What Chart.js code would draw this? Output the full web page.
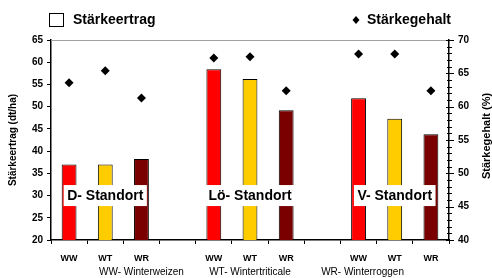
<!DOCTYPE html>
<html>
<head>
<meta charset="utf-8">
<script src="https://cdn.jsdelivr.net/npm/chart.js@4/dist/chart.umd.min.js"></script>
<style>
html,body{margin:0;padding:0;background:#fff;}
#wrap{width:492px;height:278px;position:relative;}
</style>
</head>
<body>
<div id="wrap"><canvas id="c" width="492" height="278"></canvas></div>
<script>
// ---- data ----
const categories = ['WW','WT','WR','','WW','WT','WR','','WW','WT','WR'];
const staerkeertrag = [37.0, 37.0, 38.2, null, 58.4, 56.2, 49.2, null, 51.9, 47.3, 43.8];
const staerkegehalt = [63.6, 65.4, 61.3, null, 67.3, 67.5, 62.4, null, 67.9, 67.9, 62.4];
const leftTicks = [20,25,30,35,40,45,50,55,60,65];
const rightTicks = [40,45,50,55,60,65,70];
const standorte = ['D- Standort','Lö- Standort','V- Standort'];
const standortIndex = [1,5,9];
const legende = ['WW- Winterweizen','WT- Wintertriticale','WR- Winterroggen'];

const FONT = "'Liberation Sans', Arial, sans-serif";
const cropColor = {WW:'#ff0000', WT:'#ffcc00', WR:'#7a0000'};
const barColors = categories.map(c => cropColor[c] || '#fff');

const extras = {
  id:'extras',
  afterDraw(chart){
    const ctx = chart.ctx;
    const ca = chart.chartArea;
    const xs = chart.scales.x, ys = chart.scales.y, y1 = chart.scales.y1;
    ctx.save();
    // top border line
    ctx.strokeStyle = '#a0a0a0'; ctx.lineWidth = 1;
    ctx.beginPath(); ctx.moveTo(ca.left, ca.top + 0.5); ctx.lineTo(ca.right, ca.top + 0.5); ctx.stroke();
    // right axis tick marks (major and minor)
    ctx.strokeStyle = '#000'; ctx.lineWidth = 1;
    for (let v = y1.min; v <= y1.max; v++) {
      const py = Math.round(y1.getPixelForValue(v)) + 0.5;
      const major = v % 5 === 0;
      ctx.beginPath();
      ctx.moveTo(ca.right - (major ? 3 : 2), py);
      ctx.lineTo(ca.right + (major ? 5 : 3), py);
      ctx.stroke();
    }
    // Standort labels
    ctx.font = 'bold 14px ' + FONT;
    ctx.textBaseline = 'middle'; ctx.textAlign = 'center';
    standorte.forEach((s, i) => {
      const px = xs.getPixelForValue(standortIndex[i]);
      const py = ys.getPixelForValue(30);
      const w = ctx.measureText(s).width + 7;
      ctx.fillStyle = '#fff';
      ctx.fillRect(px - w/2, py - 10.5, w, 21);
      ctx.fillStyle = '#000';
      ctx.fillText(s, px, py + 0.5);
    });
    // bottom explanation
    ctx.font = '10px ' + FONT;
    ctx.fillStyle = '#000'; ctx.textAlign = 'center';
    const noteX = [xs.getPixelForValue(2), xs.getPixelForValue(5), xs.getPixelForValue(8) + 4];
    legende.forEach((t, i) => ctx.fillText(t, noteX[i], 272));
    // axis titles
    ctx.font = 'bold 10px ' + FONT;
    ctx.save(); ctx.translate(13, 140); ctx.rotate(-Math.PI/2); ctx.fillText('Stärkeertrag (dt/ha)', 0, 0); ctx.restore();
    ctx.font = 'bold 11px ' + FONT;
    ctx.save(); ctx.translate(487, 136); ctx.rotate(-Math.PI/2); ctx.fillText('Stärkegehalt (%)', 0, 0); ctx.restore();
    // legend
    ctx.strokeStyle = '#000'; ctx.lineWidth = 1;
    ctx.strokeRect(49.5, 13.5, 14, 13);
    ctx.font = 'bold 14px ' + FONT; ctx.textAlign = 'left';
    ctx.fillText('Stärkeertrag', 73, 20.5);
    ctx.beginPath();
    ctx.moveTo(356, 16); ctx.lineTo(359.5, 20); ctx.lineTo(356, 24); ctx.lineTo(352.5, 20); ctx.closePath();
    ctx.fill();
    ctx.fillText('Stärkegehalt', 367, 20.5);
    ctx.restore();
  }
};

new Chart(document.getElementById('c'), {
  data: {
    labels: categories,
    datasets: [
      {
        type:'line', label:'Stärkegehalt', data: staerkegehalt, yAxisID:'y1',
        showLine:false, pointStyle:'rectRot', pointRadius:4.5, pointHoverRadius:4.5,
        backgroundColor:'#000', borderColor:'#000', borderWidth:0, order:0
      },
      {
        type:'bar', label:'Stärkeertrag', data: staerkeertrag, yAxisID:'y',
        backgroundColor: barColors, borderColor:'#000', borderWidth:1, borderSkipped:false,
        barPercentage:0.41, categoryPercentage:1, order:1
      }
    ]
  },
  options: {
    responsive:false, animation:false,
    layout:{padding:{top:40, left:0, right:0, bottom:0}},
    plugins:{legend:{display:false}, tooltip:{enabled:false}, title:{display:false}},
    scales:{
      x:{
        offset:true,
        grid:{offset:true, drawOnChartArea:false, drawTicks:true, tickLength:4, color:'#000'},
        border:{color:'#000', width:1.5},
        ticks:{color:'#000', font:{family:FONT, size:9, weight:'bold'}, maxRotation:0, autoSkip:false, padding:9},
        afterFit(s){ s.height = 38; }
      },
      y:{
        position:'left', min:20, max:65,
        afterBuildTicks(s){ s.ticks = leftTicks.map(v => ({value:v})); },
        grid:{drawOnChartArea:false, drawTicks:true, tickLength:4, color:'#000'},
        border:{color:'#000', width:1.5},
        ticks:{color:'#000', font:{family:FONT, size:10, weight:'bold'}, padding:4},
        afterFit(s){ s.width = 51; }
      },
      y1:{
        position:'right', min:40, max:70,
        afterBuildTicks(s){ s.ticks = rightTicks.map(v => ({value:v})); },
        grid:{drawOnChartArea:false, drawTicks:false},
        border:{color:'#000', width:1.5},
        ticks:{color:'#000', font:{family:FONT, size:10, weight:'bold'}, padding:9},
        afterFit(s){ s.width = 43; }
      }
    }
  },
  plugins:[extras]
});
</script>
</body>
</html>
